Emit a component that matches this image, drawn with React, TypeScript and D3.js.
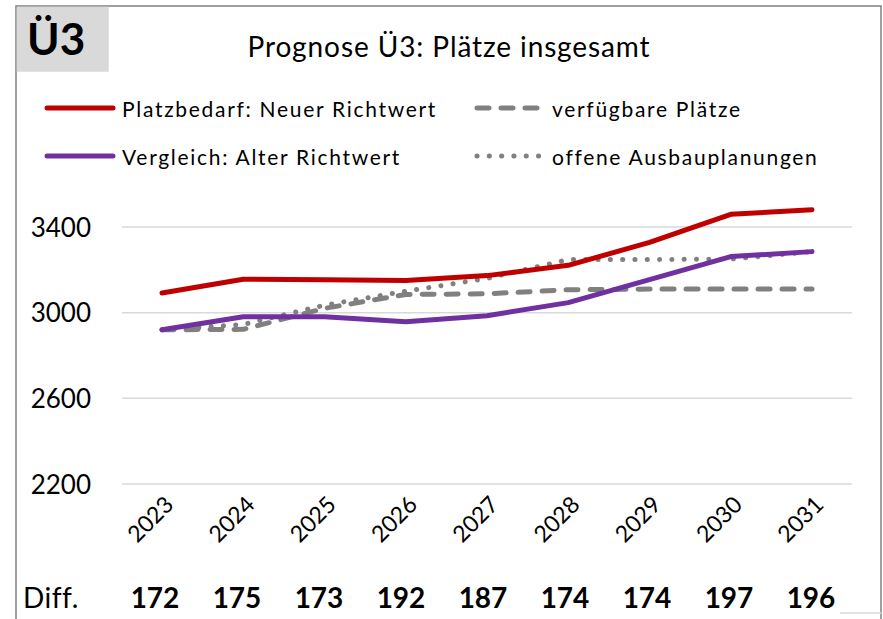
import React from "react";
import * as d3 from "d3";

const years = ["2023", "2024", "2025", "2026", "2027", "2028", "2029", "2030", "2031"];
const neuerRichtwert = [3092, 3156, 3154, 3150, 3173, 3221, 3328, 3459, 3481];
const alterRichtwert = [2920, 2981, 2981, 2958, 2986, 3047, 3154, 3262, 3285];
const verfuegbar = [2920, 2922, 3020, 3085, 3088, 3107, 3110, 3110, 3110];
const ausbau = [2920, 2945, 3035, 3100, 3160, 3248, 3248, 3250, 3285];
const diffs = [172, 175, 173, 192, 187, 174, 174, 197, 196];
const yTicks = [2200, 2600, 3000, 3400];

const W = 883;
const H = 619;
const FONT = "Lato, 'Open Sans', sans-serif";

export default function App() {
  const x = d3.scalePoint<string>().domain(years).range([162, 812]);
  const y = d3.scaleLinear().domain([2200, 3400]).range([484, 227]);
  const diffX = d3.scalePoint<string>().domain(years).range([155, 811]);

  const line = d3
    .line<number>()
    .x((_, i) => x(years[i]) as number)
    .y((d) => y(d));

  const series = [
    { name: "Platzbedarf: Neuer Richtwert", data: neuerRichtwert, color: "#c00000", dash: "", lx: 45, ly: 108 },
    { name: "verfügbare Plätze", data: verfuegbar, color: "#808080", dash: "12 12", lx: 475, ly: 108 },
    { name: "Vergleich: Alter Richtwert", data: alterRichtwert, color: "#7030a0", dash: "", lx: 45, ly: 156 },
    { name: "offene Ausbauplanungen", data: ausbau, color: "#808080", dash: "0.1 12.2", lx: 475, ly: 156 },
  ];
  const drawOrder = [1, 3, 2, 0];

  return (
    <svg width={W} height={H} style={{ position: "absolute", left: 0, top: 0, background: "#fff" }} fontFamily={FONT}>
      <rect x={0} y={0} width={W} height={H} fill="#fff" />
      <rect x={16} y={6} width={865} height={640} fill="#fff" stroke="#808080" strokeWidth={1.5} />
      <rect x={16.75} y={6.75} width={92} height={65} fill="#d9d9d9" />
      <text x={27} y={55} fontSize={44} fontWeight="bold" fill="#000">Ü3</text>
      <text x={449} y={57} fontSize={28} letterSpacing={0.9} textAnchor="middle" fill="#000">Prognose Ü3:  Plätze insgesamt</text>

      {series.map((s, i) => (
        <g key={"leg" + i}>
          <line x1={s.lx + 2} x2={s.lx + 68} y1={s.ly} y2={s.ly} stroke={s.color} strokeWidth={5} strokeDasharray={s.dash} strokeLinecap="round" />
          <text x={s.lx + 77} y={s.ly + 8.5} fontSize={21} letterSpacing={1.7} fill="#000">{s.name}</text>
        </g>
      ))}

      {yTicks.map((t) => (
        <g key={"g" + t}>
          <line x1={122} x2={852} y1={y(t)} y2={y(t)} stroke="#d9d9d9" strokeWidth={1.5} />
          <text x={91} y={y(t) + 9.5} fontSize={26} textAnchor="end" fill="#000">{t}</text>
        </g>
      ))}

      {drawOrder.map((k) => {
        const s = series[k];
        return (
          <path key={"l" + k} d={line(s.data) || ""} fill="none" stroke={s.color} strokeWidth={5} strokeDasharray={s.dash} strokeLinecap="round" strokeLinejoin="round" />
        );
      })}

      {years.map((yr) => (
        <text key={"x" + yr} transform={`translate(${(x(yr) as number) + 13},${506}) rotate(-45)`} fontSize={23} textAnchor="end" fill="#000">{yr}</text>
      ))}

      <text x={23} y={608} fontSize={28} letterSpacing={0.5} fill="#000">Diff.</text>
      {diffs.map((d, i) => (
        <text key={"d" + i} x={diffX(years[i]) as number} y={608} fontSize={28} fontWeight="bold" textAnchor="middle" fill="#000">{d}</text>
      ))}
      <line x1={840} x2={883} y1={613} y2={613} stroke="#d9d9d9" strokeWidth={1.5} />
    </svg>
  );
}
